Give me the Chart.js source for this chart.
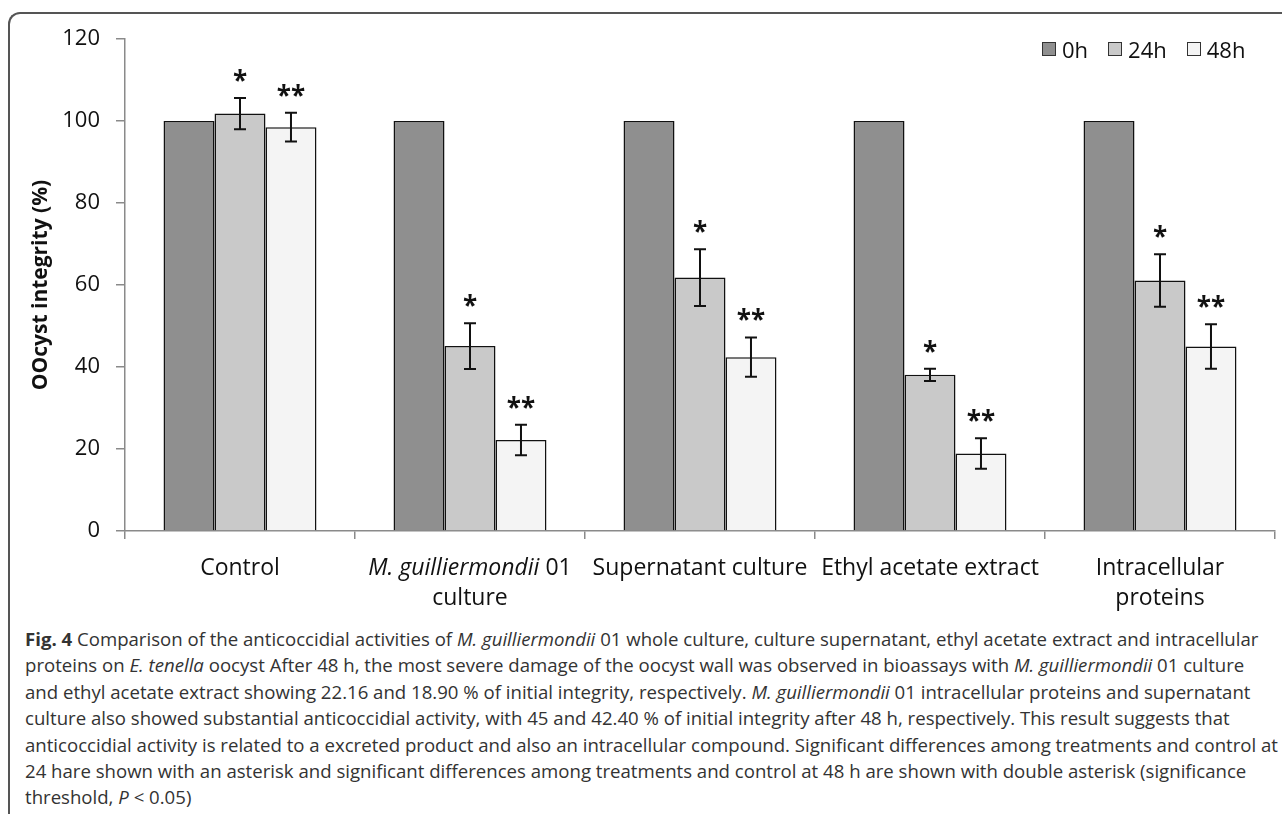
<!DOCTYPE html>
<html>
<head>
<meta charset="utf-8">
<script src="https://cdn.jsdelivr.net/npm/chart.js@4.4.1/dist/chart.umd.min.js"></script>
<style>
html, body { margin: 0; padding: 0; background: #fff; }
body { width: 1282px; height: 814px; overflow: hidden; position: relative; font-family: "Open Sans", sans-serif; }
#frame { position: absolute; left: 8px; top: 12px; width: 1300px; height: 900px;
  border-top: 2px solid #555; border-left: 2px solid #555; border-top-left-radius: 12px; }
#wrap { position: absolute; left: 0; top: 0; width: 1282px; height: 620px; }
#legend { position: absolute; top: 34px; left: 1042px; display: flex; align-items: center;
  font-size: 22px; line-height: 30px; color: #111; }
#legend .item { display: flex; align-items: center; margin-right: 20px; }
#legend .sw { width: 12px; height: 12px; border: 1.5px solid #333; margin-right: 6px; }
#caption { position: absolute; left: 25px; top: 626px; font-size: 18px; line-height: 26.4px;
  color: #333; white-space: nowrap; transform-origin: 0 0; }
#caption div { display: table; }
</style>
</head>
<body>
<div id="frame"></div>
<div id="wrap"><canvas id="chart" width="1282" height="620"></canvas></div>
<div id="legend"></div>
<div id="caption">
  <div><b>Fig. 4</b> Comparison of the anticoccidial activities of <i>M. guilliermondii</i> 01 whole culture, culture supernatant, ethyl acetate extract and intracellular</div>
  <div>proteins on <i>E. tenella</i> oocyst After 48 h, the most severe damage of the oocyst wall was observed in bioassays with <i>M. guilliermondii</i> 01 culture</div>
  <div>and ethyl acetate extract showing 22.16 and 18.90 % of initial integrity, respectively. <i>M. guilliermondii</i> 01 intracellular proteins and supernatant</div>
  <div>culture also showed substantial anticoccidial activity, with 45 and 42.40 % of initial integrity after 48 h, respectively. This result suggests that</div>
  <div id="longest">anticoccidial activity is related to a excreted product and also an intracellular compound. Significant differences among treatments and control at</div>
  <div>24 hare shown with an asterisk and significant differences among treatments and control at 48 h are shown with double asterisk (significance</div>
  <div>threshold, <i>P</i> &lt; 0.05)</div>
</div>
<script>
// data
const categories = ['Control', 'M. guilliermondii 01 culture', 'Supernatant culture', 'Ethyl acetate extract', 'Intracellular proteins'];
const labelLines = [['Control'], ['M. guilliermondii 01', 'culture'], ['Supernatant culture'], ['Ethyl acetate extract'], ['Intracellular', 'proteins']];
const italicPart = ['', 'M. guilliermondii', '', '', ''];
const seriesNames = ['0h', '24h', '48h'];
const values0h = [100, 100, 100, 100, 100];
const values24h = [101.8, 45.1, 61.8, 38.1, 61.1];
const values48h = [98.5, 22.2, 42.4, 18.9, 45.0];
const err24h = [3.8, 5.6, 6.9, 1.5, 6.4];
const err48h = [3.5, 3.7, 4.8, 3.7, 5.4];
const stars24h = ['*', '*', '*', '*', '*'];
const stars48h = ['**', '**', '**', '**', '**'];
const yTicks = [0, 20, 40, 60, 80, 100, 120];

const colors = ['#8f8f8f', '#c9c9c9', '#f4f4f4'];
Chart.defaults.font.family = "'Open Sans', sans-serif";

// error bars + asterisks
const annotate = {
  id: 'annotate',
  afterDatasetsDraw(chart) {
    const ctx = chart.ctx, y = chart.scales.y;
    ctx.save();
    [[1, err24h, stars24h], [2, err48h, stars48h]].forEach(([di, errs, stars]) => {
      const vals = chart.data.datasets[di].data;
      chart.getDatasetMeta(di).data.forEach((bar, i) => {
        const x = bar.x;
        const top = y.getPixelForValue(vals[i] + errs[i]);
        const bot = y.getPixelForValue(vals[i] - errs[i]);
        ctx.strokeStyle = '#111';
        ctx.lineWidth = 2;
        ctx.beginPath();
        ctx.moveTo(x, top); ctx.lineTo(x, bot);
        ctx.moveTo(x - 6, top); ctx.lineTo(x + 6, top);
        ctx.moveTo(x - 6, bot); ctx.lineTo(x + 6, bot);
        ctx.stroke();
        ctx.fillStyle = '#111';
        ctx.font = "bold 26px 'Open Sans'";
        ctx.textAlign = 'center';
        ctx.textBaseline = 'alphabetic';
        ctx.fillText(stars[i], x, top - 8);
      });
    });
    ctx.restore();
  }
};

// category labels, with the italic species name
const xLabels = {
  id: 'xLabels',
  afterDraw(chart) {
    const ctx = chart.ctx, x = chart.scales.x;
    const fontFor = it => (it ? 'italic ' : '') + "23px 'Open Sans'";
    ctx.save();
    ctx.fillStyle = '#111';
    ctx.textBaseline = 'middle';
    ctx.textAlign = 'left';
    labelLines.forEach((lines, i) => {
      const cx = x.getPixelForValue(i);
      lines.forEach((line, li) => {
        let parts = [[line, false]];
        const it = italicPart[i];
        if (it && line.startsWith(it)) parts = [[it, true], [line.slice(it.length), false]];
        let w = 0;
        parts.forEach(p => { ctx.font = fontFor(p[1]); w += ctx.measureText(p[0]).width; });
        let px = cx - w / 2;
        parts.forEach(p => {
          ctx.font = fontFor(p[1]);
          ctx.fillText(p[0], px, x.top + 37 + li * 30);
          px += ctx.measureText(p[0]).width;
        });
      });
    });
    ctx.restore();
  }
};

new Chart(document.getElementById('chart'), {
  type: 'bar',
  data: {
    labels: categories,
    datasets: [
      { label: seriesNames[0], data: values0h, backgroundColor: colors[0], borderColor: '#111', borderWidth: 1.5 },
      { label: seriesNames[1], data: values24h, backgroundColor: colors[1], borderColor: '#111', borderWidth: 1.5 },
      { label: seriesNames[2], data: values48h, backgroundColor: colors[2], borderColor: '#111', borderWidth: 1.5 }
    ]
  },
  options: {
    responsive: false,
    animation: false,
    layout: { padding: { left: 28, top: 39, right: 7, bottom: 0 } },
    plugins: { legend: { display: false }, tooltip: { enabled: false } },
    datasets: { bar: { categoryPercentage: 0.665, barPercentage: 1 } },
    scales: {
      x: {
        grid: { offset: true, drawOnChartArea: false, drawTicks: true, tickLength: 8, color: '#8a8a8a', lineWidth: 1.5 },
        border: { color: '#8a8a8a', width: 1.5 },
        ticks: { display: false },
        afterFit(s) { s.height = 89; }
      },
      y: {
        min: 0, max: 120,
        afterBuildTicks(s) { s.ticks = yTicks.map(v => ({ value: v })); },
        ticks: { font: { size: 22 }, color: '#111', padding: 16 },
        grid: { drawOnChartArea: false, tickLength: 9, color: '#8a8a8a', lineWidth: 1.5 },
        border: { color: '#8a8a8a', width: 1.5 },
        title: { display: true, text: 'OOcyst integrity (%)', font: { size: 21, weight: 'bold' }, color: '#111', padding: 0 },
        afterFit(s) { s.width = 97; }
      }
    }
  },
  plugins: [annotate, xLabels]
});

// legend
const legend = document.getElementById('legend');
seriesNames.forEach((n, i) => {
  const item = document.createElement('div');
  item.className = 'item';
  item.innerHTML = '<span class="sw" style="background:' + colors[i] + '"></span><span>' + n + '</span>';
  legend.appendChild(item);
});

// fit caption lines to the width of the reference
const cap = document.getElementById('caption');
const w = document.getElementById('longest').getBoundingClientRect().width;
cap.style.transform = 'scaleX(' + (1253 / w) + ')';
</script>
</body>
</html>
